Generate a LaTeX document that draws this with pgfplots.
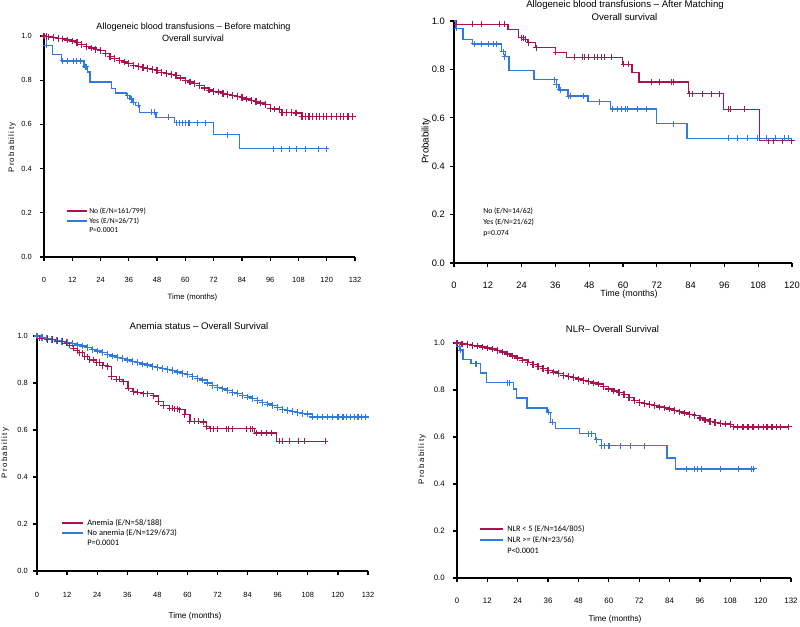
\documentclass[border=0pt]{standalone}
\usepackage{fontspec}
\setmainfont{Liberation Sans}
\newfontfamily\legfont{Carlito}
\usepackage{pgfplots}
\pgfplotsset{compat=1.18}
\definecolor{kmred}{RGB}{170,18,80}
\definecolor{kmblue}{RGB}{48,122,222}
\newcommand\fs[1]{\fontsize{#1}{#1}\selectfont}
\pgfplotsset{
  kmaxis/.style={scale only axis, axis lines=left,
    axis line style={-, line width=1.1pt, black},
    xmin=0, ymin=0, ymax=1, ytick={0,0.2,0.4,0.6,0.8,1.0},
    clip=false, tick style={black, line width=0.9pt}, major tick length=3pt, tick align=outside,
    /pgf/number format/assume math mode=true,
    yticklabel style={/pgf/number format/fixed, /pgf/number format/fixed zerofill, /pgf/number format/precision=1, anchor=east, inner sep=0pt},
    xticklabel style={anchor=center, inner sep=0pt},
    anchor=south west},
  kmline/.style={const plot, line width=0.9pt, mark=none},
  kmmark/.style={only marks, mark=+, mark size=2.3pt, mark options={line width=0.75pt}},
  kmdense/.style={const plot, line width=1pt, mark=+, mark size=2.5pt, mark options={line width=0.9pt}},
}
\begin{document}
\begin{tikzpicture}
\useasboundingbox (0,0) rectangle (600pt,469.5pt);
% ---------------- Panel 1 ----------------
\begin{axis}[kmaxis, at={(33pt,276.75pt)}, width=233.25pt, height=165.75pt,
  xmax=132, xtick={0,12,...,132},
  xticklabel style={yshift=-14.25pt}, yticklabel style={xshift=-6pt},
  ticklabel style={font=\fs{5.6}}]
\addplot[kmdense, kmred] coordinates {(0,1.000)(1,0.998)(2,0.996)(4,0.993)(6,0.990)(8,0.987)(10,0.982)(12,0.977)(14,0.970)(16,0.962)(18,0.953)(20,0.946)(22,0.940)(24,0.935)(26,0.922)(28,0.908)(30,0.897)(32,0.890)(34,0.882)(36,0.875)(38,0.868)(40,0.862)(42,0.857)(44,0.852)(46,0.848)(48,0.843)(50,0.836)(52,0.830)(54,0.826)(56,0.820)(58,0.810)(60,0.800)(62,0.792)(64,0.785)(66,0.776)(68,0.765)(70,0.755)(72,0.750)(74,0.746)(76,0.740)(78,0.736)(80,0.731)(82,0.726)(84,0.721)(86,0.715)(88,0.708)(90,0.703)(92,0.697)(94,0.690)(96,0.672)(98,0.670)(100,0.668)(101,0.655)(103,0.654)(105,0.653)(107,0.652)(109.5,0.635)(111,0.635)(112.5,0.635)(114,0.635)(115.5,0.635)(117,0.635)(118.5,0.635)(120,0.635)(122,0.635)(124,0.635)(125.7,0.635)(127,0.635)(129,0.635)(131,0.635)};
\addplot[kmline, kmblue] coordinates {(0,1.0)(1,0.958)(3.5,0.915)(7.5,0.887)(17,0.86)(18.5,0.837)(19.5,0.792)(28.5,0.762)(30.5,0.742)(35,0.73)(36.5,0.715)(37.5,0.70)(39,0.686)(40.5,0.655)(47.5,0.633)(55.5,0.608)(72,0.553)(83,0.49)(119.7,0.49)};
\addplot[kmmark, kmblue] coordinates {(1,0.958)(8,0.887)(10,0.887)(12.5,0.887)(14,0.887)(15.5,0.887)(17.5,0.86)(18,0.86)(35.5,0.73)(37,0.715)(38,0.70)(40,0.686)(45.7,0.655)(47,0.655)(52.8,0.633)(56.3,0.608)(57.7,0.608)(58.8,0.608)(60,0.608)(61.2,0.608)(61.9,0.608)(65.3,0.608)(68.7,0.608)(77.9,0.553)(97.3,0.49)(100.9,0.49)(104.4,0.49)(107.3,0.49)(111.2,0.49)(116.4,0.49)(119.7,0.49)};
\end{axis}
% ---------------- Panel 2 ----------------
\begin{axis}[kmaxis, at={(340.5pt,272.25pt)}, width=253.5pt, height=181.5pt,
  xmax=120, xtick={0,12,...,120},
  xticklabel style={yshift=-13.5pt}, yticklabel style={xshift=-3.75pt},
  ticklabel style={font=\fs{7}}]
\addplot[kmline, kmred] coordinates {(0,1.0)(1,0.986)(19.2,0.966)(23,0.931)(24.8,0.925)(26,0.911)(29,0.89)(36,0.871)(40,0.85)(59.8,0.821)(63.2,0.787)(65.7,0.748)(83.2,0.70)(95.7,0.635)(108.5,0.505)(119.8,0.505)};
\addplot[kmmark, kmred] coordinates {(1,0.986)(6.4,0.986)(9.7,0.986)(16.2,0.986)(17.8,0.986)(23.8,0.931)(24.6,0.931)(25.4,0.925)(26.5,0.911)(29.3,0.89)(36.2,0.871)(42.8,0.85)(45.6,0.85)(46.4,0.85)(47.6,0.85)(50,0.85)(51.1,0.85)(52.3,0.85)(53.3,0.85)(55.9,0.85)(60.2,0.821)(61.8,0.821)(70,0.748)(72.8,0.748)(77.2,0.748)(78,0.748)(83.7,0.70)(84.6,0.70)(88.2,0.70)(91.4,0.70)(94.1,0.70)(97.3,0.635)(98.2,0.635)(103.2,0.635)(111.7,0.505)(113.6,0.505)(116.8,0.505)(119.8,0.505)};
\addplot[kmline, kmblue] coordinates {(0,1.0)(0.6,0.97)(3.2,0.922)(6.7,0.905)(16.9,0.873)(18.3,0.853)(19.5,0.794)(28.4,0.757)(36.3,0.736)(37.3,0.715)(40.5,0.69)(47.6,0.666)(55.5,0.636)(72,0.576)(82.7,0.516)(119,0.516)};
\addplot[kmmark, kmblue] coordinates {(1,0.97)(7.3,0.905)(9.7,0.905)(12.4,0.905)(13.9,0.905)(15,0.905)(17.4,0.873)(18,0.853)(35.7,0.757)(36.3,0.736)(37.8,0.715)(40.8,0.69)(41.3,0.69)(45.8,0.69)(51.7,0.666)(56.4,0.636)(58.2,0.636)(59.4,0.636)(60.8,0.636)(61.5,0.636)(65,0.636)(68.3,0.636)(77.8,0.576)(97.3,0.516)(100.6,0.516)(104.1,0.516)(107.6,0.516)(110.9,0.516)(114.1,0.516)(117.4,0.516)(118.9,0.516)};
\end{axis}
% ---------------- Panel 3 ----------------
\begin{axis}[kmaxis, at={(27.75pt,41.25pt)}, width=248.25pt, height=176.25pt,
  xmax=132, xtick={0,12,...,132},
  xticklabel style={yshift=-15pt}, yticklabel style={xshift=-3.75pt},
  ticklabel style={font=\fs{5.6}}]
\addplot[kmdense, kmblue] coordinates {(0,1.000)(2,0.995)(4,0.990)(6,0.985)(8,0.980)(10,0.976)(12,0.972)(14,0.967)(16,0.962)(18,0.957)(20,0.950)(22,0.943)(24,0.936)(26,0.929)(28,0.922)(30,0.915)(32,0.909)(34,0.903)(36,0.898)(38,0.892)(40,0.887)(42,0.881)(44,0.876)(46,0.871)(48,0.866)(50,0.862)(52,0.857)(54,0.853)(56,0.847)(58,0.841)(60,0.835)(62,0.828)(64,0.820)(66,0.813)(68,0.800)(70,0.790)(72,0.782)(74,0.775)(76,0.768)(78,0.761)(80,0.754)(82,0.747)(84,0.740)(86,0.733)(88,0.725)(90,0.717)(92,0.710)(94,0.703)(96,0.696)(98,0.688)(100,0.682)(102,0.679)(104,0.674)(106,0.670)(108,0.668)(110,0.655)(112,0.655)(114,0.655)(116,0.655)(118,0.655)(120,0.655)(122,0.655)(123.5,0.655)(125,0.655)(126.5,0.655)(128,0.655)(129.5,0.655)(131,0.655)};
\addplot[kmline, kmred] coordinates {(0,1)(1,0.99)(4,0.985)(8,0.978)(11.7,0.969)(13,0.96)(14.4,0.948)(16,0.938)(17,0.929)(19,0.912)(21,0.898)(23.7,0.887)(26.3,0.873)(28.3,0.87)(29.7,0.827)(31.6,0.816)(34.3,0.806)(36.3,0.778)(38.3,0.764)(40,0.76)(42.3,0.754)(46.3,0.745)(48.3,0.721)(50.3,0.703)(52.9,0.693)(55,0.69)(57,0.686)(59,0.665)(61,0.637)(66.2,0.634)(67.6,0.615)(69,0.605)(86.8,0.587)(95.5,0.552)(115,0.552)};
\addplot[kmmark, kmred] coordinates {(1,0.99)(4,0.985)(6,0.985)(8,0.978)(10,0.978)(11.7,0.969)(13,0.96)(14.4,0.948)(16,0.938)(17,0.929)(18,0.929)(19,0.912)(20,0.912)(21,0.898)(22.5,0.898)(23.7,0.887)(25,0.887)(26.3,0.873)(28.3,0.87)(29.7,0.827)(31.6,0.816)(33,0.816)(34.3,0.806)(36.3,0.778)(38.3,0.764)(40,0.76)(42.3,0.754)(44,0.754)(46.3,0.745)(48.3,0.721)(50.3,0.703)(52.9,0.693)(54,0.693)(55,0.69)(56,0.69)(57,0.686)(59,0.665)(61,0.637)(63,0.637)(64.5,0.637)(66.2,0.634)(67.6,0.615)(69,0.605)(70.5,0.605)(72,0.605)(75.5,0.605)(76.5,0.605)(78,0.605)(83.5,0.605)(85,0.605)(86,0.605)(87.5,0.587)(89.5,0.587)(91.5,0.587)(93.5,0.587)(96.8,0.552)(98.1,0.552)(100.8,0.552)(104.1,0.552)(106.8,0.552)(115,0.552)};
\end{axis}
% ---------------- Panel 4 ----------------
\begin{axis}[kmaxis, at={(342.75pt,36pt)}, width=250.5pt, height=176.25pt,
  xmax=132, xtick={0,12,...,132},
  xticklabel style={yshift=-14.25pt}, yticklabel style={xshift=-6pt},
  ticklabel style={font=\fs{5.9}}]
\addplot[kmdense, kmred] coordinates {(0,1.000)(2,0.996)(4,0.993)(6,0.990)(8,0.987)(10,0.983)(12,0.979)(14,0.974)(16,0.968)(18,0.962)(20,0.953)(22,0.945)(24,0.936)(26,0.927)(28,0.917)(30,0.908)(32,0.900)(34,0.892)(36,0.884)(38,0.876)(40,0.869)(42,0.862)(44,0.857)(46,0.852)(48,0.847)(50,0.841)(52,0.836)(54,0.830)(56,0.825)(58,0.814)(60,0.804)(62,0.796)(64,0.789)(66,0.780)(68,0.768)(70,0.756)(72,0.748)(74,0.743)(76,0.738)(78,0.733)(80,0.728)(82,0.724)(84,0.719)(86,0.713)(88,0.707)(90,0.702)(92,0.697)(94,0.692)(96,0.681)(98,0.672)(100,0.667)(102,0.662)(104,0.658)(106,0.655)(108,0.652)(109.4,0.643)(111,0.643)(113,0.643)(115,0.643)(117,0.643)(119.2,0.643)(121.2,0.643)(122.5,0.643)(124.5,0.643)(126.2,0.643)(127.8,0.643)(131,0.643)};
\addplot[kmline, kmblue] coordinates {(0,1.0)(1,0.97)(2.4,0.929)(5.5,0.912)(9.2,0.872)(11.6,0.831)(22.4,0.804)(23.5,0.766)(27.7,0.723)(35.6,0.705)(36.9,0.662)(38.9,0.635)(48.5,0.614)(54.7,0.589)(57,0.563)(83,0.511)(86.3,0.464)(117.9,0.464)};
\addplot[kmmark, kmblue] coordinates {(0.8,0.985)(1.5,0.97)(7.2,0.912)(7.9,0.912)(19.8,0.831)(20.7,0.831)(36.2,0.705)(37.6,0.662)(52,0.614)(53.1,0.614)(55.3,0.589)(57.3,0.563)(58.2,0.563)(60,0.563)(60.3,0.563)(64.6,0.563)(68.5,0.563)(74.2,0.563)(90.6,0.464)(93.8,0.464)(95.1,0.464)(96.8,0.464)(104.1,0.464)(111.3,0.464)(116.3,0.464)(117.3,0.464)};
\end{axis}
% ---------------- Titles, axis labels, legends ----------------
\begin{scope}[x=0.75pt, y=-0.75pt, yshift=469.5pt]
\node[font=\fs{6.8}, inner sep=0pt] at (193.5,27.3) {Allogeneic blood transfusions -- Before matching};
\node[font=\fs{6.8}, inner sep=0pt] at (193,38.3) {Overall survival};
\node[font=\fs{5.9}, inner sep=0pt, rotate=90] at (12,147.5) {P\hspace{1pt}r\hspace{1pt}o\hspace{1pt}b\hspace{1pt}a\hspace{1pt}b\hspace{1pt}i\hspace{1pt}l\hspace{1pt}i\hspace{1pt}t\hspace{1pt}y};
\node[font=\fs{5.8}, inner sep=0pt] at (192.5,297) {Time (months)};
\node[font=\fs{7.2}, inner sep=0pt] at (625,5) {Allogeneic blood transfusions -- After Matching};
\node[font=\fs{7.2}, inner sep=0pt] at (624.5,16.7) {Overall survival};
\node[font=\fs{7.3}, inner sep=0pt, rotate=90] at (426,141) {Probability};
\node[font=\fs{6.7}, inner sep=0pt] at (629,294) {Time (months)};
\node[font=\fs{7.2}, inner sep=0pt] at (199,326) {Anemia status -- Overall Survival};
\node[font=\fs{5.9}, inner sep=0pt, rotate=90] at (5,453) {P\hspace{1pt}r\hspace{1pt}o\hspace{1pt}b\hspace{1pt}a\hspace{1pt}b\hspace{1pt}i\hspace{1pt}l\hspace{1pt}i\hspace{1pt}t\hspace{1pt}y};
\node[font=\fs{6.2}, inner sep=0pt] at (195,616) {Time (months)};
\node[font=\fs{7.1}, inner sep=0pt] at (612.5,329) {NLR-- Overall Survival};
\node[font=\fs{5.9}, inner sep=0pt, rotate=90] at (422,459.5) {P\hspace{1pt}r\hspace{1pt}o\hspace{1pt}b\hspace{1pt}a\hspace{1pt}b\hspace{1pt}i\hspace{1pt}l\hspace{1pt}i\hspace{1pt}t\hspace{1pt}y};
\node[font=\fs{6.2}, inner sep=0pt] at (615,619) {Time (months)};
% legend panel 1
\draw[kmred, line width=0.9pt] (67,211) -- (87,211);
\draw[kmblue, line width=0.9pt] (67,221) -- (87,221);
\node[font=\legfont\fs{5.7}, inner sep=0pt, anchor=base west] at (89,213.3) {No (E/N=161/799)};
\node[font=\legfont\fs{5.7}, inner sep=0pt, anchor=base west] at (89,223.3) {Yes (E/N=26/71)};
\node[font=\legfont\fs{5.7}, inner sep=0pt, anchor=base west] at (89,232.5) {P=0.0001};
% legend panel 2
\node[font=\legfont\fs{5.8}, inner sep=0pt, anchor=base west] at (483,213.3) {No (E/N=14/62)};
\node[font=\legfont\fs{5.8}, inner sep=0pt, anchor=base west] at (483,224.3) {Yes (E/N=21/62)};
\node[font=\legfont\fs{5.8}, inner sep=0pt, anchor=base west] at (483,235.3) {p=0.074};
% legend panel 3
\draw[kmred, line width=0.9pt] (62,523) -- (83,523);
\draw[kmblue, line width=0.9pt] (62,533) -- (83,533);
\node[font=\legfont\fs{6.3}, inner sep=0pt, anchor=base west] at (87,525.5) {Anemia (E/N=58/188)};
\node[font=\legfont\fs{6.3}, inner sep=0pt, anchor=base west] at (87,535.5) {No anemia (E/N=129/673)};
\node[font=\legfont\fs{6.3}, inner sep=0pt, anchor=base west] at (87,545.5) {P=0.0001};
% legend panel 4
\draw[kmred, line width=0.9pt] (480,529) -- (503,529);
\draw[kmblue, line width=0.9pt] (480,540) -- (503,540);
\node[font=\legfont\fs{6.2}, inner sep=0pt, anchor=base west] at (507,531.5) {NLR < 5 (E/N=164/805)};
\node[font=\legfont\fs{6.2}, inner sep=0pt, anchor=base west] at (507,542.5) {NLR >= (E/N=23/56)};
\node[font=\legfont\fs{6.2}, inner sep=0pt, anchor=base west] at (507,553.5) {P<0.0001};
\end{scope}
\end{tikzpicture}
\end{document}
